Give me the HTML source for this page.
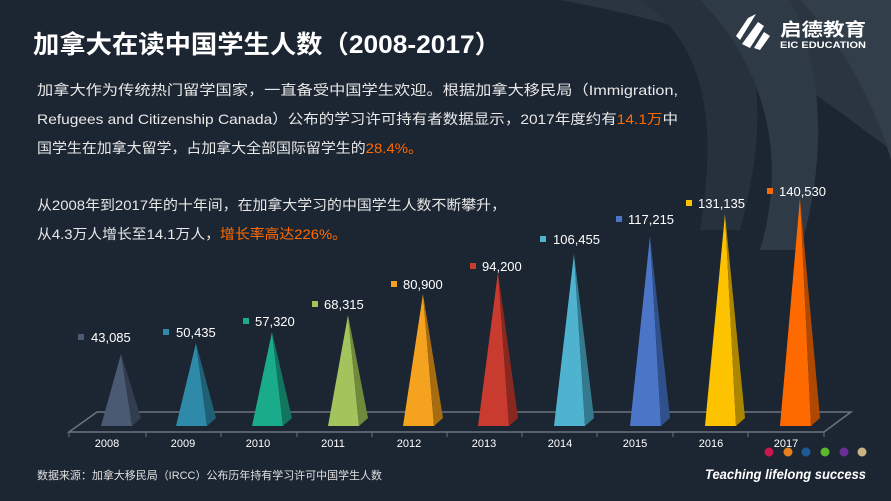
<!DOCTYPE html>
<html><head><meta charset="utf-8"><style>
html,body{margin:0;padding:0;background:#1c2632;}
svg{display:block}
text{font-family:"Liberation Sans","Noto Sans CJK SC",sans-serif;}
</style></head><body>
<svg width="891" height="501" viewBox="0 0 891 501" xmlns="http://www.w3.org/2000/svg">
<rect width="891" height="501" fill="#1c2632"/>
<path d="M560,0 L891,0 L891,150 C850,120 800,80 760,60 C700,30 640,15 560,0Z" fill="#2a3541"/>
<path d="M640,0 C700,40 720,110 700,230 L740,230 C770,120 760,40 720,0Z" fill="#26313d"/>
<path d="M700,0 C760,60 790,150 760,250 L800,250 C830,150 820,60 790,0Z" fill="#2f3a47"/>
<path d="M800,0 C850,50 880,120 891,160 L891,0Z" fill="#333e4b"/>
<text x="33" y="53" font-size="25" font-weight="bold" fill="#fff" textLength="468" lengthAdjust="spacingAndGlyphs">加拿大在读中国学生人数（2008-2017）</text>
<g fill="#fff">
<path d="M748,18 l8,-4 l-16,26 l-4,-4z"/>
<path d="M758,22 l6,4 l-14,22 l-8,-4z"/>
<path d="M764,32 l6,4 l-10,14 l-6,-2z"/>
</g>
<text x="780" y="36" font-size="18" font-weight="bold" fill="#fff" textLength="86" lengthAdjust="spacingAndGlyphs">启德教育</text>
<text x="780" y="48" font-size="9" font-weight="bold" fill="#fff" font-family="Liberation Serif" textLength="86" lengthAdjust="spacingAndGlyphs">EIC EDUCATION</text>
<g font-size="14" fill="#e8e8e8">
<text x="37" y="95" textLength="641" lengthAdjust="spacingAndGlyphs">加拿大作为传统热门留学国家，一直备受中国学生欢迎。根据加拿大移民局（Immigration,</text>
<text x="37" y="124" textLength="641" lengthAdjust="spacingAndGlyphs">Refugees and Citizenship Canada）公布的学习许可持有者数据显示，2017年度约有<tspan fill="#ff6a00">14.1万</tspan>中</text>
<text x="37" y="153" textLength="386" lengthAdjust="spacingAndGlyphs">国学生在加拿大留学，占加拿大全部国际留学生的<tspan fill="#ff6a00">28.4%。</tspan></text>
<text x="37" y="210" textLength="469" lengthAdjust="spacingAndGlyphs">从2008年到2017年的十年间，在加拿大学习的中国学生人数不断攀升，</text>
<text x="37" y="239" textLength="310" lengthAdjust="spacingAndGlyphs">从4.3万人增长至14.1万人，<tspan fill="#ff6a00">增长率高达226%。</tspan></text>
</g>
<g stroke="#6b7380" stroke-width="1.5" fill="none">
<path d="M97,412 L851,412 L824,432 L69,432 Z"/>
</g>
<g stroke="#6b7380" stroke-width="1">
<line x1="69" y1="432" x2="69" y2="437"/><line x1="146" y1="432" x2="146" y2="437"/><line x1="221" y1="432" x2="221" y2="437"/><line x1="297" y1="432" x2="297" y2="437"/><line x1="372" y1="432" x2="372" y2="437"/><line x1="447" y1="432" x2="447" y2="437"/><line x1="522" y1="432" x2="522" y2="437"/><line x1="597" y1="432" x2="597" y2="437"/><line x1="673" y1="432" x2="673" y2="437"/><line x1="748" y1="432" x2="748" y2="437"/><line x1="824" y1="432" x2="824" y2="437"/>
</g>
<g>
<path d="M121,354 L101,426 L132,426Z" fill="#4a5a72"/><path d="M121,354 L132,426 L141,418Z" fill="#323e50"/>
<path d="M196,343 L176,426 L207,426Z" fill="#2e8aa8"/><path d="M196,343 L207,426 L216,418Z" fill="#1f6077"/>
<path d="M272,332 L252,426 L283,426Z" fill="#1aab8a"/><path d="M272,332 L283,426 L292,418Z" fill="#12765f"/>
<path d="M348,315 L328,426 L359,426Z" fill="#a3c45c"/><path d="M348,315 L359,426 L368,418Z" fill="#6f8a3b"/>
<path d="M423,294 L403,426 L434,426Z" fill="#f5a21e"/><path d="M423,294 L434,426 L443,418Z" fill="#a86c10"/>
<path d="M498,272 L478,426 L509,426Z" fill="#c83b2e"/><path d="M498,272 L509,426 L518,418Z" fill="#8a2820"/>
<path d="M574,254 L554,426 L585,426Z" fill="#4fb3cf"/><path d="M574,254 L585,426 L594,418Z" fill="#347a8e"/>
<path d="M650,236 L630,426 L661,426Z" fill="#4b76c8"/><path d="M650,236 L661,426 L670,418Z" fill="#30508b"/>
<path d="M725,214 L705,426 L736,426Z" fill="#fdc300"/><path d="M725,214 L736,426 L745,418Z" fill="#ad8600"/>
<path d="M800,198 L780,426 L811,426Z" fill="#ff6a00"/><path d="M800,198 L811,426 L820,418Z" fill="#b04800"/>
</g>
<g font-size="13" fill="#fff">
<rect x="78" y="334" width="6" height="6" fill="#4a5a72"/><text x="91" y="342">43,085</text>
<rect x="163" y="329" width="6" height="6" fill="#2e8aa8"/><text x="176" y="337">50,435</text>
<rect x="243" y="318" width="6" height="6" fill="#1aab8a"/><text x="255" y="326">57,320</text>
<rect x="312" y="301" width="6" height="6" fill="#a3c45c"/><text x="324" y="309">68,315</text>
<rect x="391" y="281" width="6" height="6" fill="#f5a21e"/><text x="403" y="289">80,900</text>
<rect x="470" y="263" width="6" height="6" fill="#c83b2e"/><text x="482" y="271">94,200</text>
<rect x="540" y="236" width="6" height="6" fill="#4fb3cf"/><text x="553" y="244">106,455</text>
<rect x="616" y="216" width="6" height="6" fill="#4b76c8"/><text x="628" y="224">117,215</text>
<rect x="686" y="200" width="6" height="6" fill="#fdc300"/><text x="698" y="208">131,135</text>
<rect x="767" y="188" width="6" height="6" fill="#ff6a00"/><text x="779" y="196">140,530</text>
</g>
<g font-size="11" fill="#fff" text-anchor="middle">
<text x="107" y="447">2008</text><text x="183" y="447">2009</text><text x="258" y="447">2010</text><text x="333" y="447">2011</text><text x="409" y="447">2012</text><text x="484" y="447">2013</text><text x="560" y="447">2014</text><text x="635" y="447">2015</text><text x="711" y="447">2016</text><text x="786" y="447">2017</text>
</g>
<circle cx="769" cy="452" r="4.5" fill="#c8174a"/>
<circle cx="788" cy="452" r="4.5" fill="#e6801e"/>
<circle cx="806" cy="452" r="4.5" fill="#1e5a96"/>
<circle cx="825" cy="452" r="4.5" fill="#5cb82e"/>
<circle cx="844" cy="452" r="4.5" fill="#6a2e96"/>
<circle cx="862" cy="452" r="4.5" fill="#c8b482"/>
<text x="37" y="479" font-size="11" fill="#e0e0e0" textLength="345" lengthAdjust="spacingAndGlyphs">数据来源：加拿大移民局（IRCC）公布历年持有学习许可中国学生人数</text>
<text x="705" y="479" font-size="14" font-weight="bold" font-style="italic" fill="#fff" textLength="161" lengthAdjust="spacingAndGlyphs">Teaching lifelong success</text>
</svg>
</body></html>
